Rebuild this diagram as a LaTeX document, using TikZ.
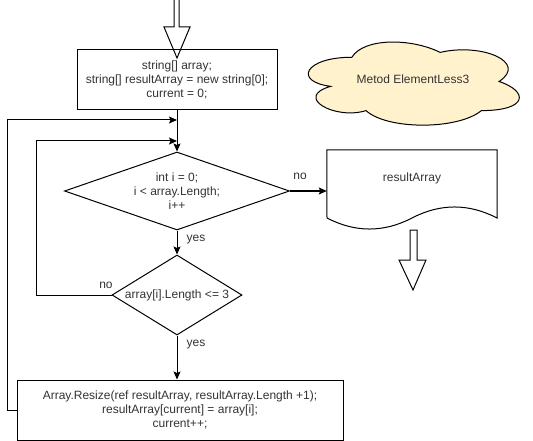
\documentclass[tikz,border=0pt]{standalone}
\usepackage{fontspec}
\setmainfont{Liberation Sans}
\usetikzlibrary{arrows.meta,shapes.geometric}
\definecolor{FontColor}{RGB}{51,51,51}
\definecolor{CloudFill}{RGB}{255,242,204}
\tikzset{
  box/.style={draw, rectangle, align=center, text=FontColor, line width=1pt},
  cond/.style={draw, diamond, inner sep=0pt, line width=1pt},
  flow/.style={-{Stealth[length=8pt,width=7pt,inset=1.5pt]}, line width=1pt},
  lbl/.style={text=FontColor, align=center},
  fatarrow/.style={draw, line width=1pt, line join=miter},
}

\begin{document}
\begin{tikzpicture}[x=1pt,y=-1pt,font=\fontsize{12}{14}\selectfont]
    \useasboundingbox (0,0) rectangle (533,441);

    \node[box, minimum width=200pt, minimum height=60pt] (init) at (177,80) {string[] array;\\string[] resultArray = new string[0];\\current = 0;};

    % cloud with the method name
    \begin{scope}[shift={(293,33)}, x=235.5pt, y=-97pt]
      \draw[fill=CloudFill, line width=1pt] (0.25,0.25)
        .. controls (0.05,0.25) and (0,0.5) .. (0.16,0.55)
        .. controls (0,0.66) and (0.18,0.9) .. (0.31,0.8)
        .. controls (0.4,1) and (0.7,1) .. (0.8,0.8)
        .. controls (1,0.8) and (1,0.6) .. (0.875,0.5)
        .. controls (1,0.3) and (0.8,0.1) .. (0.625,0.2)
        .. controls (0.5,0.05) and (0.3,0.05) .. (0.25,0.25) -- cycle;
    \end{scope}
    \node[lbl] (title) at (413,79) {Metod ElementLess3};

    \node[cond, minimum width=225pt, minimum height=78pt] (loop) at (177,191) {};
    \node[lbl] (looptext) at (loop) {int i = 0;\\i < array.Length;\\i++};

    \node[cond, minimum width=130pt, minimum height=80pt] (check) at (177,295) {};
    \node[lbl] (checktext) at (check) {array[i].Length <= 3};

    \node[box, minimum width=326pt, minimum height=60pt] (body) at (180,410) {Array.Resize(ref resultArray, resultArray.Length +1);\\resultArray[current] = array[i];\\current++;};

    \node[lbl, minimum width=170pt, minimum height=56pt] (result) at (412,178) {resultArray};
    \draw[line width=1pt] (result.north west) -- (result.north east) -- (497,218)
        .. controls (468.7,203.3) and (440.3,203.3) .. (412,218)
        .. controls (383.7,232.7) and (355.3,232.7) .. (327,218) -- cycle;

    % fat arrows in and out
    \draw[fatarrow] (174,-2) -- (174,27) -- (164,27) -- (177,58) -- (190,27) -- (179,27) -- (179,-2);
    \draw[fatarrow] (410,230) -- (410,260) -- (399,260) -- (413,290) -- (426,260) -- (417,260) -- (417,230) -- cycle;

    \coordinate (back1) at (177,120);
    \coordinate (back2) at (177,141);

    \draw[flow] (init) -- (loop);
    \draw[flow] (loop.east) -- (result.west |- loop.east);
    \draw[flow] (loop.south) -- (check.north);
    \draw[flow] (check.south) -- (check.south |- body.north);
    \draw[flow] (check.west) -- ++(-75,0) |- (back2);
    \draw[flow] (body.west) -- ++(-9,0) |- (back1);

    \node[lbl] (no1) at (300,176) {no};
    \node[lbl] (yes1) at (196,240) {yes};
    \node[lbl] (no2) at (106,285) {no};
    \node[lbl] (yes2) at (196,345) {yes};

\end{tikzpicture}
\end{document}
